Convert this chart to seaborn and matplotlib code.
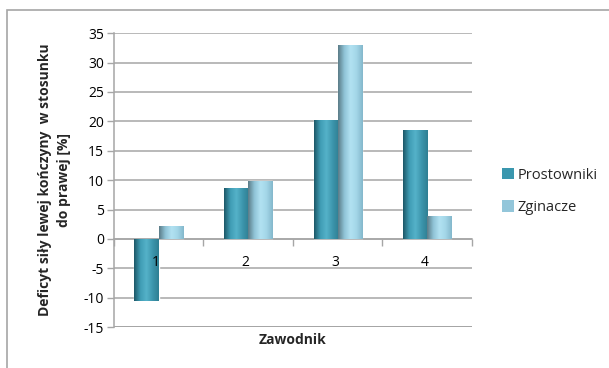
import numpy as np
import pandas as pd
import matplotlib
matplotlib.use("Agg")
import matplotlib.pyplot as plt
from matplotlib.colors import LinearSegmentedColormap
from matplotlib.patches import Patch, Rectangle
import seaborn as sns

# Data
zawodnicy = ["1", "2", "3", "4"]
prostowniki = [-10.6, 8.6, 20.3, 18.5]
zginacze = [2.2, 9.8, 32.9, 3.9]
serie = ["Prostowniki", "Zginacze"]
y_ticks = [-15, -10, -5, 0, 5, 10, 15, 20, 25, 30, 35]

df = pd.DataFrame({
    "Zawodnik": zawodnicy * 2,
    "Grupa": [serie[0]] * 4 + [serie[1]] * 4,
    "Wartosc": prostowniki + zginacze,
})

sns.set_theme(style="white")
plt.rcParams["font.family"] = ["Open Sans", "DejaVu Sans"]

base_colors = ["#3a97ae", "#93c6da"]
# horizontal shading across each bar (cylinder-like look)
shades = [
    ["#1d5868", "#3f9cb4", "#55b2c9", "#3d96ad", "#2f7f93"],
    ["#5b7c88", "#8fc3d6", "#b2e2f2", "#a3d6e8", "#84b8cc"],
]

fig = plt.figure(figsize=(6.09, 3.68), dpi=100)
ax = fig.add_axes([0.187, 0.111, 0.588, 0.799])

sns.barplot(data=df, x="Zawodnik", y="Wartosc", hue="Grupa",
            palette=base_colors, width=0.54, dodge=True, legend=False,
            saturation=1, ax=ax, zorder=2)

# gradient overlay on each bar
for cont, cols in zip(ax.containers, shades):
    cmap = LinearSegmentedColormap.from_list("g", cols)
    grad = cmap(np.linspace(0, 1, 64))[None, :, :]
    for bar in cont:
        bb = bar.get_bbox()
        im = ax.imshow(grad, aspect="auto", extent=(bb.x0, bb.x1, bb.y0, bb.y1),
                       zorder=3, interpolation="bilinear")
        im.set_clip_path(bar)

ax.set_xlim(-0.5, 3.5)
ax.set_ylim(-15, 35)
ax.set_yticks(y_ticks)
ax.set_yticklabels([str(t) for t in y_ticks])

grid_col = "#a6a6a6"
ax.yaxis.grid(True, color=grid_col, linewidth=1.1, zorder=0)
ax.xaxis.grid(False)
ax.set_axisbelow(True)

for s in ["top", "right"]:
    ax.spines[s].set_visible(False)
ax.spines["left"].set_color(grid_col)
ax.spines["left"].set_linewidth(1.1)
ax.spines["bottom"].set_position(("data", 0))
ax.spines["bottom"].set_color(grid_col)
ax.spines["bottom"].set_linewidth(1.1)
ax.axhline(-15, color=grid_col, linewidth=1.4, zorder=1)

# category borders on the zero line; category names drawn above the bars
ax.set_xticks([-0.5, 0.5, 1.5, 2.5, 3.5])
ax.set_xticklabels([])
ax.tick_params(axis="x", length=5, width=1, color=grid_col, direction="out")
for i, name in enumerate(zawodnicy):
    ax.text(i - 0.03, -4.0, name, ha="center", va="center", fontsize=10,
            color="black", zorder=6)
ax.tick_params(axis="y", length=5, width=1, color=grid_col, labelsize=10, colors="black", pad=2)
ax.tick_params(axis="both", bottom=True, left=True)

ax.set_xlabel("")
ax.set_ylabel("Deficyt siły lewej kończyny  w stosunku\ndo prawej [%]",
              fontsize=10, fontweight="bold", labelpad=9, linespacing=1.5)
fig.text(0.481, 0.076, "Zawodnik", ha="center", va="center",
         fontsize=10, fontweight="bold")

handles = [Patch(facecolor=c, edgecolor="none") for c in base_colors]
fig.legend(handles, serie, loc="center left", bbox_to_anchor=(0.802, 0.48),
           frameon=False, fontsize=10.5, handlelength=0.85, handleheight=0.85,
           handletextpad=0.25, labelspacing=1.2)

# chart area border
fig.patches.append(Rectangle((7 / 609, -0.1), 1.1, 1.1 - 10 / 368,
                             transform=fig.transFigure, fill=False,
                             edgecolor="#a6a6a6", linewidth=1.2))

fig.savefig("out.png", dpi=100)
